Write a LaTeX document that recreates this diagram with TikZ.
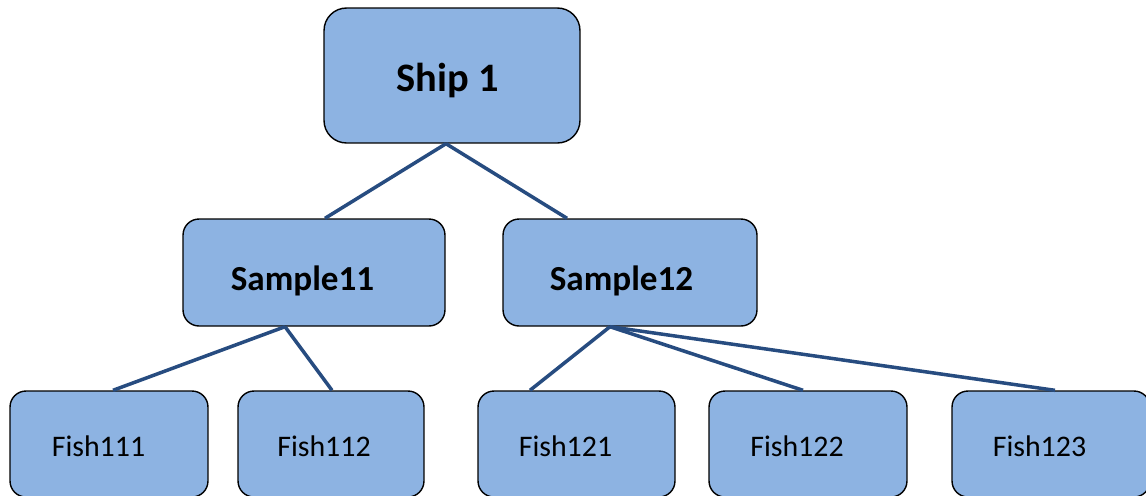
\documentclass[tikz,border=0pt]{standalone}
\usepackage{fontspec}
\setmainfont{Carlito}
\definecolor{boxblue}{HTML}{8DB3E2}
\definecolor{linkblue}{HTML}{274C80}
\begin{document}
\begin{tikzpicture}[x=0.02cm, y=-0.02cm,
    box/.style={rectangle, draw=black, line width=0.8pt, fill=boxblue, rounded corners=0.32cm},
    head/.style={font=\bfseries\fontsize{23}{28}\selectfont, anchor=base},
    mid/.style={font=\bfseries\fontsize{20}{24}\selectfont, anchor=base},
    leaf/.style={font=\fontsize{17}{20}\selectfont, anchor=base},
    link/.style={draw=linkblue, line width=2pt}]
    \useasboundingbox (0,0) rectangle (1146,495);
    \clip (0,0) rectangle (1146,495);
    \node[box, rounded corners=0.45cm, minimum width=5.12cm, minimum height=2.7cm](Ship) at (452,75.5){};
    \node[head](ShipT) at (447.5,91){Ship 1};
    \node[box, minimum width=5.24cm, minimum height=2.14cm](S11) at (314,272.5){};
    \node[mid](S11T) at (302.5,290){Sample11};
    \node[box, minimum width=5.08cm, minimum height=2.14cm](S12) at (630,272.5){};
    \node[mid](S12T) at (621.5,290){Sample12};

\foreach \n/\x/\w/\tx in {111/109/3.96/98.5, 112/331/3.72/324, 121/576.5/3.94/565.5, 122/808/3.96/797, 123/1051/3.96/1039.5}{
    \node[box, minimum width=\w cm, minimum height=2.12cm](F\n) at (\x,444){};
    \node[leaf](F\n T) at (\tx,456){Fish\n};}

\foreach \s/\ds/\t/\dt in {Ship/-6/S11/11, Ship/-6/S12/-63, S11/-29/F111/4, S11/-29/F112/1, S12/-20/F121/-46.5, S12/-20/F122/-5, S12/-20/F123/4}{
    \draw[link] ([xshift=\ds*0.02cm]\s.south) -- ([xshift=\dt*0.02cm]\t.north);}
\end{tikzpicture}
\end{document}
